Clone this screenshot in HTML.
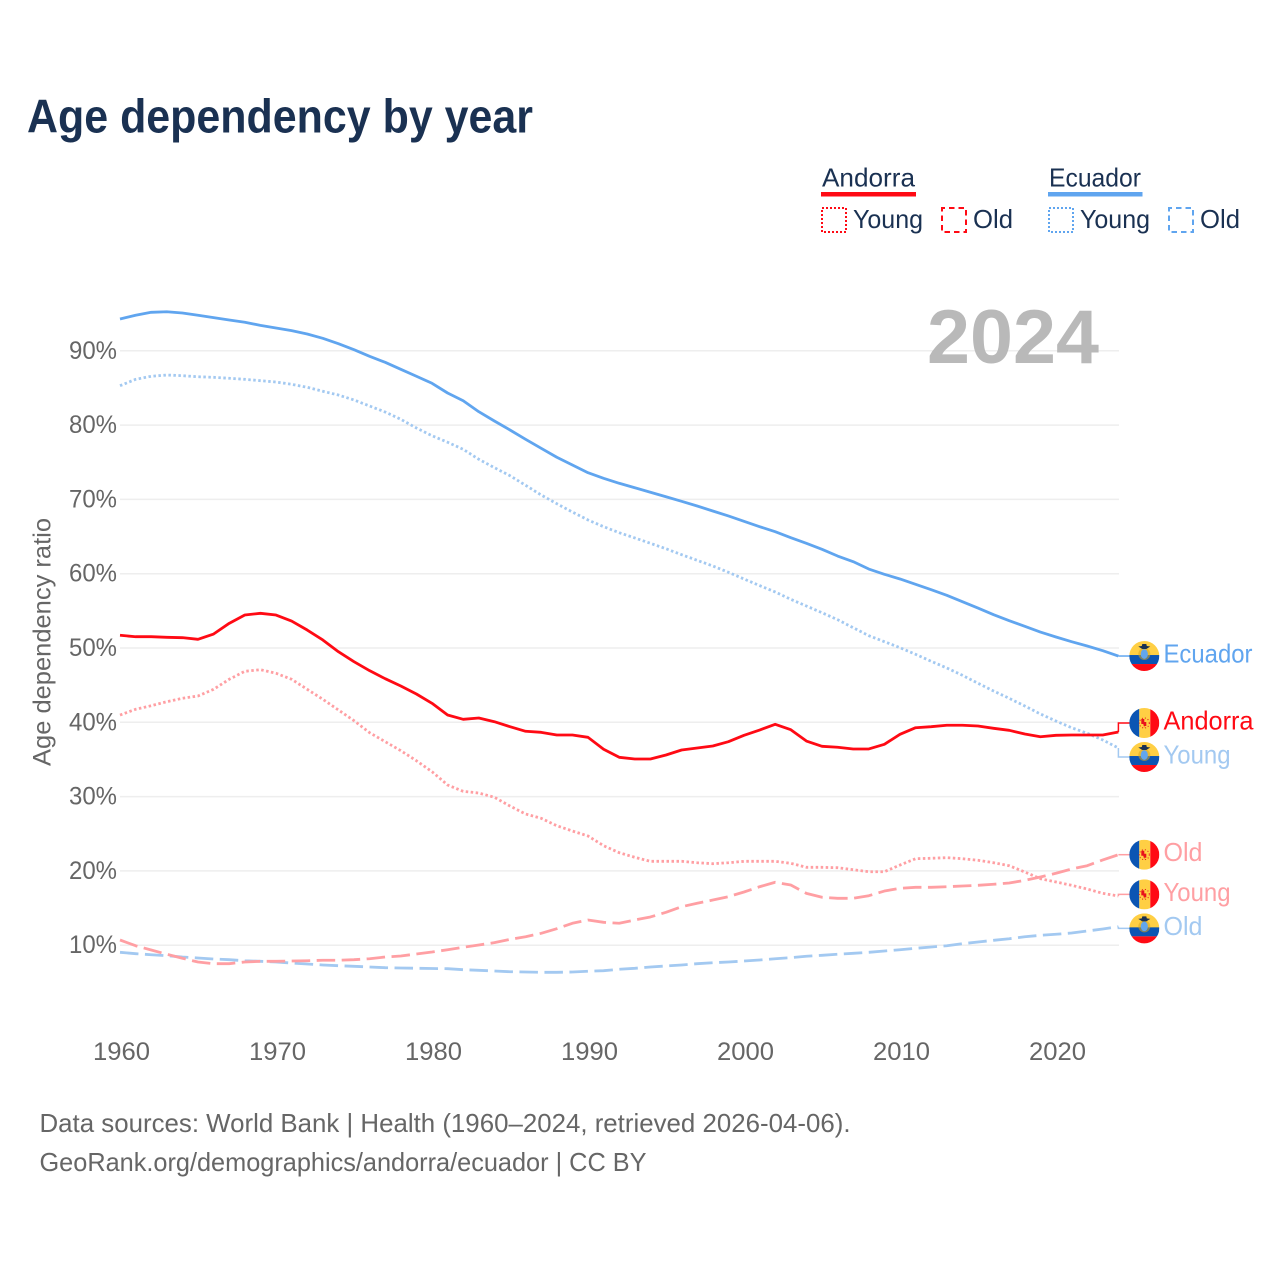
<!DOCTYPE html>
<html lang="en">
<head>
<meta charset="utf-8">
<title>Age dependency by year</title>
<style>
html,body{margin:0;padding:0;background:#fff;width:1280px;height:1280px;overflow:hidden}
svg{display:block;font-family:"Liberation Sans",sans-serif}
</style>
</head>
<body>
<svg id="chart" xmlns="http://www.w3.org/2000/svg" width="1280" height="1280" viewBox="0 0 1280 1280">
  <defs>
    <clipPath id="flag-clip"><circle cx="0" cy="0" r="15"/></clipPath>
    <g id="flag-ecuador" clip-path="url(#flag-clip)">
      <rect x="-15" y="-15" width="30" height="15" fill="#ffcf44"/>
      <rect x="-15" y="-1" width="30" height="9" fill="#0b55b3"/>
      <rect x="-15" y="8" width="30" height="8" fill="#ff0a14"/>
      <circle cx="0" cy="-2" r="6" fill="#d9a520" opacity=".55"/>
      <ellipse cx="0" cy="-2" rx="3.6" ry="4.8" fill="#62a6ee"/>
      <path d="M-6 -9.5 L-2.5 -10 L-2 -12 L2 -12 L2.5 -10 L6 -9.5 L2 -7 L-2 -7Z" fill="#1a3152"/>
    </g>
    <g id="flag-andorra" clip-path="url(#flag-clip)">
      <rect x="-15" y="-15" width="10" height="30" fill="#0b55b3"/>
      <rect x="-5" y="-15" width="11" height="30" fill="#ffcf44"/>
      <rect x="6" y="-15" width="9" height="30" fill="#ff0a14"/>
      <path d="M-3 -4 H0 V-1 H2 V3 H0 V5 L-1 1 H-3Z" fill="#e8121c"/>
      <circle cx="0" cy="0" r="5" fill="none" stroke="#e8121c" stroke-width="1" stroke-dasharray="1 2"/>
    </g>
  </defs>

  <text x="27" y="132.5" font-size="47" font-weight="700" fill="#1a3152" textLength="506" lengthAdjust="spacingAndGlyphs">Age dependency by year</text>

  <g>
    <text x="822" y="186.5" font-size="26" fill="#1a3152" textLength="93" lengthAdjust="spacingAndGlyphs">Andorra</text>
    <rect x="821" y="192" width="95" height="4.5" fill="#ff0a14"/>
    <rect x="822" y="208" width="24" height="24" fill="none" stroke="#ff0a14" stroke-width="2" stroke-dasharray="2 2"/>
    <text x="853" y="228" font-size="26" fill="#1a3152" textLength="70" lengthAdjust="spacingAndGlyphs">Young</text>
    <rect x="942" y="208" width="24" height="24" fill="none" stroke="#ff0a14" stroke-width="2" stroke-dasharray="5.5 4" stroke-dashoffset="2.5"/>
    <text x="973" y="228" font-size="26" fill="#1a3152" textLength="40" lengthAdjust="spacingAndGlyphs">Old</text>

    <text x="1049" y="186.5" font-size="26" fill="#1a3152" textLength="92" lengthAdjust="spacingAndGlyphs">Ecuador</text>
    <rect x="1048" y="192" width="94.5" height="4.5" fill="#60a5ef"/>
    <rect x="1049" y="208" width="24" height="24" fill="none" stroke="#60a5ef" stroke-width="2" stroke-dasharray="2 2"/>
    <text x="1080" y="228" font-size="26" fill="#1a3152" textLength="70" lengthAdjust="spacingAndGlyphs">Young</text>
    <rect x="1169" y="208" width="24" height="24" fill="none" stroke="#60a5ef" stroke-width="2" stroke-dasharray="5.5 4" stroke-dashoffset="2.5"/>
    <text x="1200" y="228" font-size="26" fill="#1a3152" textLength="40" lengthAdjust="spacingAndGlyphs">Old</text>
  </g>

  <g id="grid"></g>
  <g id="y-ticks"></g>
  <g id="x-ticks"></g>

  <text transform="translate(50.5 642) rotate(-90)" text-anchor="middle" font-size="25" fill="#666" textLength="248" lengthAdjust="spacingAndGlyphs">Age dependency ratio</text>
  <text x="927" y="363" font-size="76" font-weight="700" fill="#b9b9b9" textLength="172" lengthAdjust="spacingAndGlyphs">2024</text>

  <g id="series"></g>
  <g id="end-labels"></g>

  <g>
    <text x="39.5" y="1132" font-size="26" fill="#666" textLength="811" lengthAdjust="spacingAndGlyphs">Data sources: World Bank | Health (1960–2024, retrieved 2026-04-06).</text>
    <text x="39.5" y="1171" font-size="26" fill="#666" textLength="607" lengthAdjust="spacingAndGlyphs">GeoRank.org/demographics/andorra/ecuador | CC BY</text>
  </g>
</svg>

<script>
const years = [1960,1961,1962,1963,1964,1965,1966,1967,1968,1969,1970,1971,1972,1973,1974,1975,1976,1977,1978,1979,1980,1981,1982,1983,1984,1985,1986,1987,1988,1989,1990,1991,1992,1993,1994,1995,1996,1997,1998,1999,2000,2001,2002,2003,2004,2005,2006,2007,2008,2009,2010,2011,2012,2013,2014,2015,2016,2017,2018,2019,2020,2021,2022,2023,2024];

const ecuadorTotal = [94.28,94.78,95.18,95.26,95.09,94.78,94.46,94.15,93.84,93.43,93.07,92.71,92.26,91.68,90.96,90.15,89.26,88.45,87.51,86.57,85.63,84.32,83.28,81.80,80.55,79.34,78.09,76.88,75.67,74.63,73.59,72.84,72.17,71.57,70.96,70.36,69.74,69.11,68.44,67.77,67.05,66.33,65.65,64.85,64.09,63.28,62.38,61.62,60.63,59.92,59.29,58.57,57.85,57.09,56.23,55.38,54.48,53.67,52.92,52.15,51.48,50.85,50.27,49.64,48.92];

const ecuadorYoung = [85.30,86.16,86.57,86.74,86.65,86.51,86.43,86.30,86.16,85.98,85.80,85.49,85.09,84.55,84.05,83.38,82.57,81.76,80.78,79.61,78.57,77.69,76.74,75.40,74.27,73.19,71.90,70.59,69.42,68.30,67.23,66.33,65.52,64.81,64.09,63.36,62.56,61.80,61.04,60.19,59.29,58.40,57.54,56.55,55.65,54.75,53.81,52.73,51.66,50.85,50.04,49.15,48.21,47.31,46.33,45.25,44.21,43.23,42.19,41.12,40.17,39.27,38.52,37.62,36.54];

const ecuadorOld = [9.04,8.86,8.72,8.59,8.41,8.28,8.14,8.05,7.91,7.83,7.74,7.60,7.47,7.34,7.24,7.16,7.07,6.97,6.93,6.90,6.86,6.84,6.70,6.62,6.53,6.43,6.39,6.35,6.35,6.39,6.49,6.57,6.76,6.89,7.07,7.20,7.34,7.51,7.64,7.74,7.87,8.01,8.18,8.32,8.51,8.64,8.78,8.91,9.04,9.22,9.39,9.58,9.76,9.93,10.20,10.43,10.66,10.87,11.14,11.33,11.47,11.64,11.91,12.18,12.49];

const andorraTotal = [51.71,51.52,51.52,51.44,51.39,51.17,51.88,53.32,54.44,54.67,54.44,53.63,52.42,51.08,49.50,48.16,46.95,45.87,44.89,43.81,42.56,40.98,40.40,40.58,40.08,39.41,38.79,38.65,38.29,38.29,37.98,36.37,35.29,35.06,35.06,35.60,36.27,36.54,36.81,37.39,38.25,38.96,39.73,39.00,37.48,36.77,36.64,36.41,36.41,37.04,38.38,39.27,39.41,39.60,39.60,39.50,39.19,38.92,38.43,38.06,38.25,38.29,38.29,38.29,38.69];

const andorraYoung = [40.98,41.75,42.23,42.77,43.23,43.54,44.44,45.79,46.86,47.08,46.60,45.79,44.44,43.10,41.66,40.22,38.60,37.39,36.18,34.83,33.35,31.56,30.71,30.48,29.91,28.73,27.66,27.08,26.08,25.37,24.70,23.39,22.45,21.83,21.29,21.29,21.29,21.10,20.97,21.10,21.29,21.29,21.29,21.02,20.48,20.48,20.43,20.16,19.89,19.89,20.79,21.64,21.70,21.78,21.64,21.43,21.10,20.70,19.85,18.95,18.51,18.06,17.56,16.98,16.62];

const andorraOld = [10.70,9.93,9.35,8.78,8.24,7.74,7.51,7.51,7.74,7.83,7.83,7.87,7.91,7.97,7.97,8.05,8.18,8.41,8.55,8.82,9.08,9.39,9.72,10.03,10.34,10.79,11.14,11.60,12.22,12.95,13.39,13.08,12.95,13.39,13.80,14.43,15.18,15.64,16.08,16.53,17.16,17.87,18.47,18.10,16.98,16.45,16.31,16.31,16.66,17.29,17.66,17.79,17.79,17.87,17.97,18.06,18.20,18.37,18.73,19.18,19.68,20.26,20.70,21.47,22.18];

const yTickValues = [10,20,30,40,50,60,70,80,90];
const xTickValues = [1960,1970,1980,1990,2000,2010,2020];

const SVGNS = 'http://www.w3.org/2000/svg';
const RED = '#ff0a14', BLUE = '#60a5ef', LIGHT_RED = '#ff9fa3', LIGHT_BLUE = '#a3c9f1';
const DOTTED = '2.5 2.5', DASHED = '18.5 6.5';

function xScale(year) { return 120 + (year - 1960) * 15.6; }
function yScale(value) { return 945.2 - (value - 10) * 7.43; }

function make(tag, attrs, parent, text) {
  const el = document.createElementNS(SVGNS, tag);
  for (const k in attrs) el.setAttribute(k, attrs[k]);
  if (text !== undefined) el.textContent = text;
  parent.appendChild(el);
  return el;
}

const gridG = document.getElementById('grid');
const yTickG = document.getElementById('y-ticks');
const xTickG = document.getElementById('x-ticks');
const seriesG = document.getElementById('series');
const labelsG = document.getElementById('end-labels');

yTickValues.forEach(function (v) {
  const line = make('line', {x1: 120, x2: 1119, y1: yScale(v), y2: yScale(v), stroke: '#eeeeee', 'stroke-width': 1.5}, gridG);
  
  
  const label = make('text', {x: 117, y: yScale(v) + 8, 'text-anchor': 'end', 'font-size': 25, fill: '#666', textLength: 48, lengthAdjust: 'spacingAndGlyphs'}, yTickG, v + '%');
  
  
});

xTickValues.forEach(function (yr) {
  const label = make('text', {x: xScale(yr) + 1.5, y: 1060, 'text-anchor': 'middle', 'font-size': 25, fill: '#666', textLength: 57, lengthAdjust: 'spacingAndGlyphs'}, xTickG, String(yr));
  
  
});

const seriesList = [
  {id: 'ecuador-old', values: ecuadorOld, color: LIGHT_BLUE, dash: DASHED, label: 'Old', flag: 'flag-ecuador', width: 39},
  {id: 'andorra-old', values: andorraOld, color: LIGHT_RED, dash: DASHED, label: 'Old', flag: 'flag-andorra', width: 39},
  {id: 'ecuador-young', values: ecuadorYoung, color: LIGHT_BLUE, dash: DOTTED, label: 'Young', flag: 'flag-ecuador', width: 67},
  {id: 'andorra-young', values: andorraYoung, color: LIGHT_RED, dash: DOTTED, label: 'Young', flag: 'flag-andorra', width: 67},
  {id: 'ecuador-total', values: ecuadorTotal, color: BLUE, dash: null, label: 'Ecuador', flag: 'flag-ecuador', width: 89},
  {id: 'andorra-total', values: andorraTotal, color: RED, dash: null, label: 'Andorra', flag: 'flag-andorra', width: 90}
];

seriesList.forEach(function (s) {
  const d = s.values.map(function (v, i) {
    return (i ? 'L' : 'M') + xScale(years[i]).toFixed(2) + ' ' + yScale(v).toFixed(2);
  }).join('');
  const attrs = {d: d, fill: 'none', stroke: s.color, 'stroke-width': 2.8, 'stroke-linejoin': 'round'};
  if (s.dash) attrs['stroke-dasharray'] = s.dash;
  const path = make('path', attrs, seriesG);
  
  
});

/* end labels: start at each series' last value, then push neighbours apart */
const slots = seriesList.map(function (s) {
  const last = s.values[s.values.length - 1];
  return {s: s, raw: yScale(last), y: yScale(last)};
}).sort(function (a, b) { return a.y - b.y; });

for (let pass = 0; pass < 20; pass++) {
  for (let i = 1; i < slots.length; i++) {
    const gap = slots[i].y - slots[i - 1].y;
    if (gap < 34) {
      const push = (34 - gap) / 2;
      slots[i - 1].y -= push;
      slots[i].y += push;
    }
  }
}

slots.forEach(function (slot) {
  const s = slot.s;
  const endX = xScale(years[years.length - 1]);
  const leader = make('path', {d: 'M' + endX + ' ' + slot.raw + 'V' + slot.y + 'H1130', fill: 'none', stroke: s.color, 'stroke-width': 1.5}, labelsG);
  
  

  const flag = make('use', {href: '#' + s.flag, transform: 'translate(1144.3 ' + slot.y + ')'}, labelsG);
  
  

  const label = make('text', {x: 1163.5, y: slot.y + 6.5, 'font-size': 26, fill: s.color, textLength: s.width, lengthAdjust: 'spacingAndGlyphs'}, labelsG, s.label);
  
  
});
</script>
</body>
</html>
